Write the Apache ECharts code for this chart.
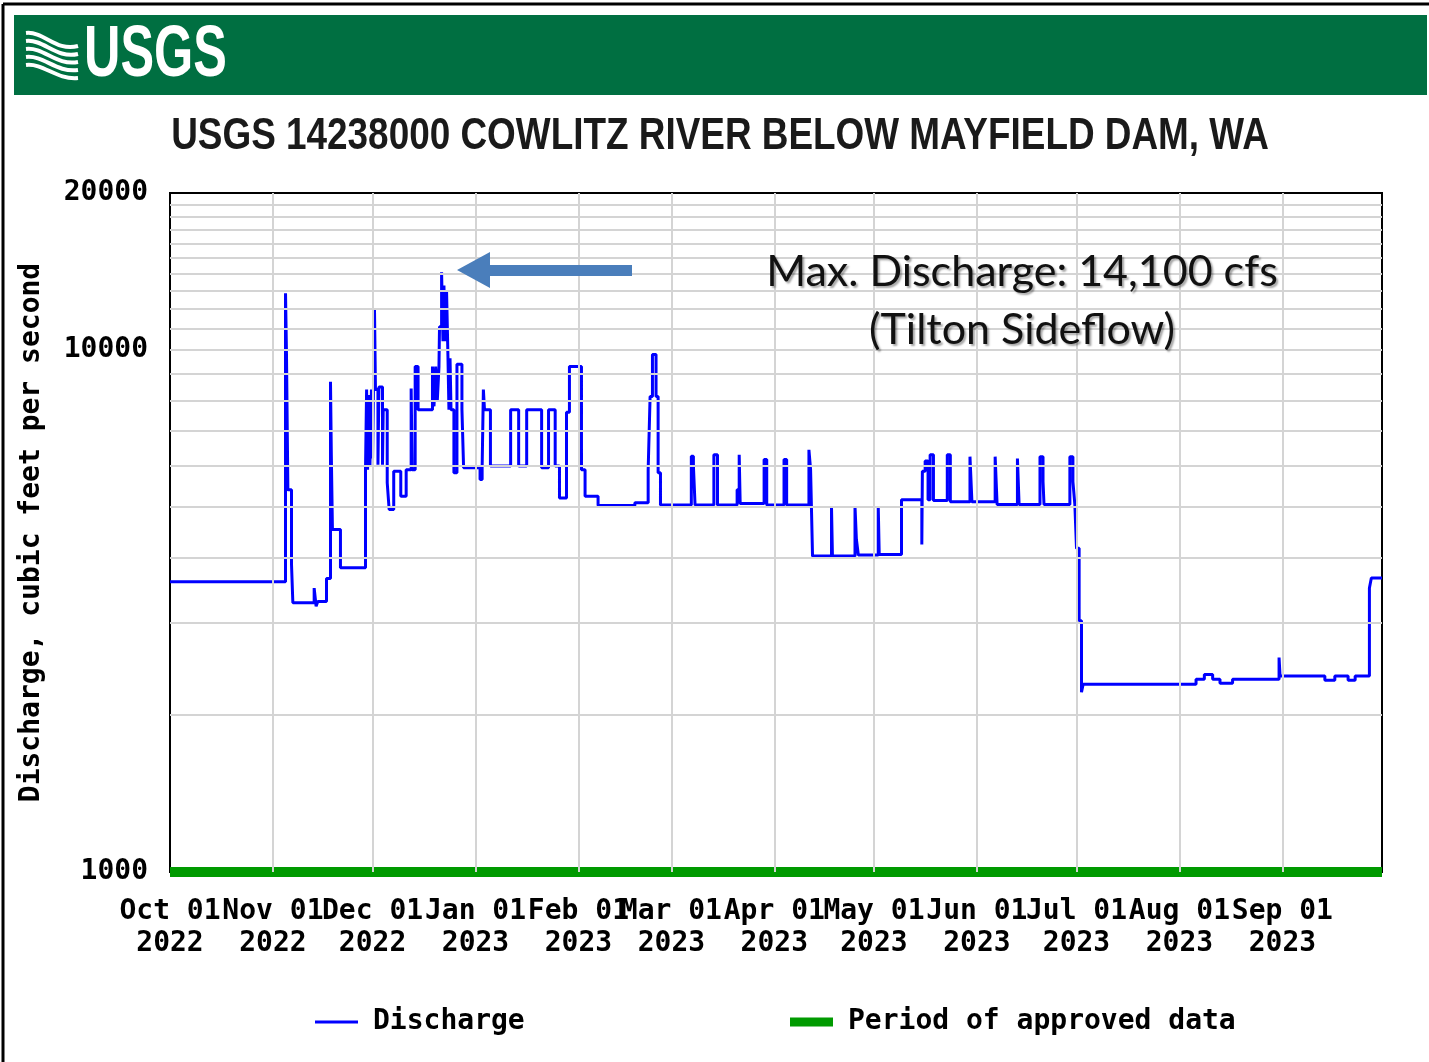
<!DOCTYPE html>
<html>
<head>
<meta charset="utf-8">
<title>USGS 14238000 Cowlitz River below Mayfield Dam</title>
<script src="https://cdn.jsdelivr.net/npm/echarts@6/dist/echarts.min.js"></script>
<style>
  html, body { margin: 0; padding: 0; background: #fff; }
  #chart { width: 1429px; height: 1062px; }
</style>
</head>
<body>
<div id="chart"></div>
<script>
// station + annotation text
const stationTitle = 'USGS 14238000 COWLITZ RIVER BELOW MAYFIELD DAM, WA'
const noteLines = ['Max. Discharge: 14,100 cfs', '(Tilton Sideflow)']

// x axis: first of each month gets a label
const monthTicks = [
  '2022-10-01', '2022-11-01', '2022-12-01', '2023-01-01', '2023-02-01', '2023-03-01',
  '2023-04-01', '2023-05-01', '2023-06-01', '2023-07-01', '2023-08-01', '2023-09-01'
]
const monthNames = ['Jan', 'Feb', 'Mar', 'Apr', 'May', 'Jun', 'Jul', 'Aug', 'Sep', 'Oct', 'Nov', 'Dec']
const monthGrid = monthTicks.slice(1)

// y axis: log scale, light grid every 1000 cfs
const yGrid = [2000, 3000, 4000, 5000, 6000, 7000, 8000, 9000, 10000,
  11000, 12000, 13000, 14000, 15000, 16000, 17000, 18000, 19000]

// discharge (cfs), each value holds until the next time
const flowTimes = [
  '2022-10-01 00:00', '2022-11-04 19:00', '2022-11-05 02:00', '2022-11-05 12:00', '2022-11-06 14:00',
  '2022-11-07 00:00', '2022-11-13 10:00', '2022-11-14 00:00', '2022-11-14 12:00', '2022-11-17 03:00',
  '2022-11-18 08:00', '2022-11-18 14:00', '2022-11-18 22:00', '2022-11-21 08:00', '2022-11-28 21:00',
  '2022-11-29 05:00', '2022-11-29 12:00', '2022-11-29 19:00', '2022-11-30 05:00', '2022-11-30 16:00',
  '2022-12-01 00:00', '2022-12-01 14:00', '2022-12-01 21:00', '2022-12-02 15:00', '2022-12-02 22:00',
  '2022-12-04 00:00', '2022-12-04 05:00', '2022-12-05 10:00', '2022-12-06 00:00', '2022-12-07 09:00',
  '2022-12-09 12:00', '2022-12-11 03:00', '2022-12-12 15:00', '2022-12-12 22:00', '2022-12-13 20:00',
  '2022-12-14 17:00', '2022-12-19 01:00', '2022-12-19 12:00', '2022-12-20 00:00', '2022-12-20 12:00',
  '2022-12-21 00:00', '2022-12-21 04:00', '2022-12-21 19:00', '2022-12-22 05:00', '2022-12-22 12:00',
  '2022-12-22 20:00', '2022-12-23 07:00', '2022-12-23 17:00', '2022-12-24 00:00', '2022-12-24 08:00',
  '2022-12-24 15:00', '2022-12-25 12:00', '2022-12-26 10:00', '2022-12-27 22:00', '2022-12-28 10:00',
  '2023-01-02 09:00', '2023-01-03 00:00', '2023-01-03 09:00', '2023-01-03 17:00', '2023-01-05 12:00',
  '2023-01-11 14:00', '2023-01-14 00:00', '2023-01-16 10:00', '2023-01-20 22:00', '2023-01-23 00:00',
  '2023-01-25 00:00', '2023-01-26 07:00', '2023-01-28 10:00', '2023-01-29 07:00', '2023-02-01 22:00',
  '2023-02-03 00:00', '2023-02-06 22:00', '2023-02-18 00:00', '2023-02-22 00:00', '2023-02-22 14:00',
  '2023-02-23 07:00', '2023-02-24 09:00', '2023-02-25 00:00', '2023-02-25 17:00', '2023-03-07 00:00',
  '2023-03-07 15:00', '2023-03-08 03:00', '2023-03-13 19:00', '2023-03-14 21:00', '2023-03-20 19:00',
  '2023-03-21 10:00', '2023-03-21 17:00', '2023-03-28 22:00', '2023-03-29 17:00', '2023-04-03 22:00',
  '2023-04-04 17:00', '2023-04-11 10:00', '2023-04-11 22:00', '2023-04-12 12:00', '2023-04-18 05:00',
  '2023-04-18 12:00', '2023-04-25 07:00', '2023-04-25 17:00', '2023-04-26 07:00', '2023-05-02 07:00',
  '2023-05-02 14:00', '2023-05-09 07:00', '2023-05-15 10:00', '2023-05-15 14:00', '2023-05-16 10:00',
  '2023-05-17 07:00', '2023-05-17 22:00', '2023-05-18 22:00', '2023-05-23 02:00', '2023-05-24 00:00',
  '2023-05-29 22:00', '2023-05-30 12:00', '2023-06-06 12:00', '2023-06-07 02:00', '2023-06-13 05:00',
  '2023-06-13 17:00', '2023-06-20 00:00', '2023-06-20 22:00', '2023-06-21 05:00', '2023-06-29 00:00',
  '2023-06-29 22:00', '2023-06-30 12:00', '2023-07-01 00:00', '2023-07-01 19:00', '2023-07-02 12:00',
  '2023-07-03 00:00', '2023-08-06 00:00', '2023-08-08 12:00', '2023-08-11 00:00', '2023-08-13 05:00',
  '2023-08-17 00:00', '2023-08-31 00:00', '2023-08-31 07:00', '2023-09-13 19:00', '2023-09-16 19:00',
  '2023-09-20 19:00', '2023-09-22 22:00', '2023-09-27 05:00', '2023-09-27 19:00', '2023-10-01 00:00'
]
const flowValues = [
  3600, 12850, 9800, 5400, 3900,
  3280, 3500, 3230, 3300, 3650,
  8700, 6300, 4530, 3830, 5900,
  8400, 5900, 8200, 6000, 8400,
  6200, 12000, 8400, 6030, 8500,
  6030, 7690, 5570, 4950, 5860,
  5250, 5900, 8440, 5900, 9300,
  7690, 9300, 7800, 9300, 8000,
  9300, 11090, 14100, 10400, 13300,
  10400, 12960, 9700, 7690, 9650,
  7690, 5820, 9400, 7700, 5950,
  5650, 5950, 8400, 7690, 6000,
  7690, 6000, 7690, 5950, 7690,
  6000, 5210, 7600, 9300, 5900,
  5250, 5040, 5100, 5900, 8150,
  9810, 8150, 5820, 5050, 6260,
  6000, 5050, 6300, 5050, 5400,
  6300, 5080, 6170, 5050, 6170,
  5050, 6440, 5900, 4030, 5020,
  4030, 5020, 4340, 4050, 5020,
  4060, 5170, 4240, 5860, 6130,
  5170, 6300, 5150, 6300, 5120,
  6250, 5120, 6250, 5060, 6200,
  5060, 6250, 5600, 5060, 6250,
  5600, 5060, 4170, 3030, 2210,
  2290, 2340, 2390, 2340, 2300,
  2340, 2575, 2375, 2330, 2375,
  2330, 2375, 3500, 3660, 3660
]

const approvedTimes = ['2022-10-01', '2023-10-01']
const approvedLevel = 1000

const monoFont = "'DejaVu Sans Mono', 'Liberation Mono', monospace"
const sansFont = "'Liberation Sans', Arial, sans-serif"

// the x axis is a plain value axis in milliseconds
const toMs = (s) => +echarts.time.parse(s)

const chart = echarts.init(document.getElementById('chart'), null, { renderer: 'canvas' })

const monthLabel = (value) => {
  const d = new Date(value)
  return monthNames[d.getMonth()] + ' 01\n' + d.getFullYear()
}

// white waves of the logo, drawn in the header
const logoWaves = [0, 1, 2, 3, 4].map((i) => ({
  type: 'bezierCurve',
  shape: {
    x1: 26, y1: 33 + i * 8,
    cpx1: 44, cpy1: 31 + i * 8,
    cpx2: 56, cpy2: 52 + i * 7,
    x2: 78, y2: 46 + i * 8
  },
  style: { stroke: '#fff', lineWidth: 4, fill: null }
}))

const legendText = { fontFamily: monoFont, fontWeight: 'bold', fontSize: 28, color: '#000', padding: [0, 0, 0, 10] }

const option = {
  animation: false,
  backgroundColor: '#fff',
  grid: {
    left: 170,
    right: 47,
    top: 193,
    bottom: 190,
    show: true,
    borderColor: '#000',
    borderWidth: 2,
    backgroundColor: 'transparent'
  },
  legend: [
    {
      data: ['Discharge'],
      left: 315,
      top: 1008,
      padding: 0,
      icon: 'rect',
      itemWidth: 43,
      itemHeight: 3,
      textStyle: legendText
    },
    {
      data: ['Period of approved data'],
      left: 790,
      top: 1008,
      padding: 0,
      icon: 'rect',
      itemWidth: 43,
      itemHeight: 9,
      textStyle: legendText
    }
  ],
  xAxis: {
    type: 'value',
    min: toMs(approvedTimes[0]),
    max: toMs(approvedTimes[1]),
    axisLine: { show: false },
    axisTick: { show: false },
    splitLine: { show: false },
    axisLabel: {
      customValues: monthTicks.map(toMs),
      formatter: monthLabel,
      hideOverlap: false,
      margin: 24,
      fontFamily: monoFont,
      fontWeight: 'bold',
      fontSize: 28,
      lineHeight: 32,
      color: '#000'
    }
  },
  yAxis: {
    type: 'log',
    logBase: 10,
    min: 1000,
    max: 20000,
    name: 'Discharge, cubic feet per second',
    nameLocation: 'middle',
    nameGap: 124,
    nameTextStyle: { fontFamily: monoFont, fontWeight: 'bold', fontSize: 28, color: '#000' },
    axisLine: { show: false },
    axisTick: { show: false },
    splitLine: { show: false },
    axisLabel: {
      margin: 22,
      fontFamily: monoFont,
      fontWeight: 'bold',
      fontSize: 28,
      color: '#000',
      formatter: (v) => String(Math.round(v))
    }
  },
  series: [
    {
      name: 'gridlines',
      type: 'line',
      data: [],
      z: 1,
      silent: true,
      markLine: {
        silent: true,
        symbol: 'none',
        label: { show: false },
        lineStyle: { color: '#d4d4d4', width: 2, type: 'solid' },
        data: [
          ...yGrid.map((v) => ({ yAxis: v })),
          ...monthGrid.map((t) => ({ xAxis: toMs(t) }))
        ]
      }
    },
    {
      name: 'Period of approved data',
      type: 'line',
      data: approvedTimes.map((t) => [toMs(t), approvedLevel]),
      showSymbol: false,
      clip: false,
      z: 4,
      color: '#009a00',
      lineStyle: { color: '#009a00', width: 10, cap: 'butt' }
    },
    {
      name: 'Discharge',
      type: 'line',
      step: 'end',
      data: flowTimes.map((t, i) => [toMs(t), flowValues[i]]),
      showSymbol: false,
      z: 3,
      color: '#0000ff',
      lineStyle: { color: '#0000ff', width: 3 }
    }
  ],
  graphic: [
    // page frame
    { type: 'line', shape: { x1: 3, y1: 4, x2: 1429, y2: 4 }, style: { stroke: '#000', lineWidth: 3 } },
    { type: 'line', shape: { x1: 3, y1: 4, x2: 3, y2: 1062 }, style: { stroke: '#000', lineWidth: 3 } },
    // USGS header band
    { type: 'rect', shape: { x: 14, y: 15, width: 1413, height: 80 }, style: { fill: '#006f41' } },
    ...logoWaves,
    {
      type: 'text',
      x: 84,
      y: 56,
      scaleX: 0.7,
      style: { text: 'USGS', fill: '#fff', font: 'bold 72px ' + sansFont, verticalAlign: 'middle' }
    },
    {
      type: 'text',
      x: 720,
      y: 137,
      scaleX: 0.82,
      style: {
        text: stationTitle,
        fill: '#1a1a1a',
        font: 'bold 45px ' + sansFont,
        align: 'center',
        verticalAlign: 'middle'
      }
    },
    // arrow pointing at the peak
    {
      type: 'polygon',
      z: 10,
      shape: { points: [[457, 270], [490, 252], [490, 265], [632, 265], [632, 276], [490, 276], [490, 288]] },
      style: { fill: '#4a7ebb' }
    },
    ...noteLines.map((line, i) => ({
      type: 'text',
      z: 10,
      x: 1022,
      y: 272 + i * 58,
      style: {
        text: line,
        fill: '#111',
        font: '43px Lato, "Open Sans", sans-serif',
        align: 'center',
        verticalAlign: 'middle',
        textShadowColor: 'rgba(0,0,0,0.35)',
        textShadowBlur: 2,
        textShadowOffsetX: 2,
        textShadowOffsetY: 2
      }
    }))
  ]
}

chart.setOption(option)
window.addEventListener('resize', () => chart.resize())
</script>
</body>
</html>
